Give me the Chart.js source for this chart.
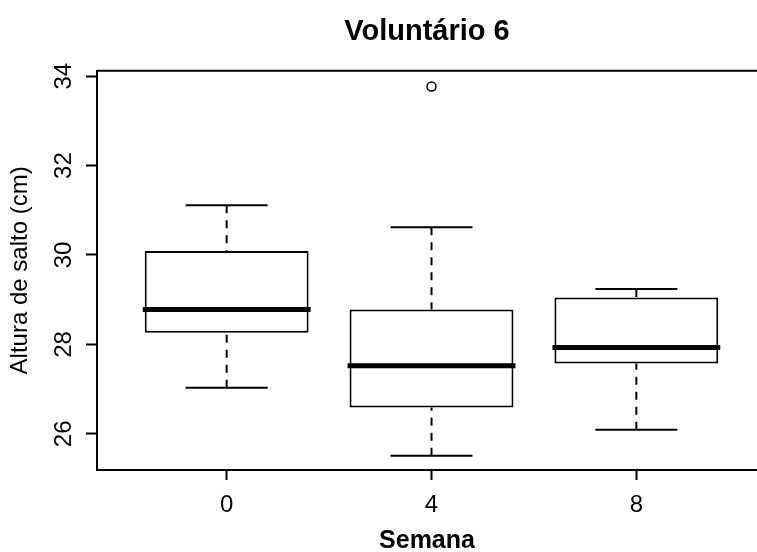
<!DOCTYPE html>
<html>
<head>
<meta charset="utf-8">
<title>Voluntário 6</title>
<script src="https://cdn.jsdelivr.net/npm/chart.js@4.4.1/dist/chart.umd.min.js"></script>
<style>
    html, body { margin: 0; padding: 0; background: #fff; }
    #wrap { width: 757px; height: 552px; }
</style>
</head>
<body>
<div id="wrap"><canvas id="boxChart"></canvas></div>
<script>
// Semanas (eixo x) e posicao de cada caixa
const semanas = ['0', '4', '8'];
const posicoes = [1, 2, 3];

// Estatisticas das caixas (cm)
const minimo = [27.03, 25.51, 26.09];
const quartil1 = [28.26, 26.59, 27.57];
const mediana = [28.78, 27.52, 27.93];
const quartil3 = [30.09, 28.78, 29.05];
const maximo = [31.11, 30.62, 29.24];

// Valores atipicos
const outlierPos = [2];
const outlierValor = [33.77];

// Marcas do eixo y
const yTicks = [26, 28, 30, 32, 34];

Chart.defaults.font.family = "'Liberation Sans', Arial, sans-serif";
Chart.defaults.color = '#000';

// Bigodes, medianas e moldura (estilo boxplot do R)
const boxplotExtras = {
    id: 'boxplotExtras',
    afterDatasetsDraw(chart) {
        const { ctx, chartArea, scales: { x, y } } = chart;
        const bars = chart.getDatasetMeta(0).data;
        ctx.save();
        ctx.strokeStyle = '#000';
        ctx.lineCap = 'butt';

        posicoes.forEach((p, i) => {
            const cx = x.getPixelForValue(p);
            const half = bars[i].width / 2;

            // bigodes tracejados, do extremo ate a caixa
            ctx.lineWidth = 2;
            ctx.setLineDash([8, 7]);
            ctx.beginPath();
            ctx.moveTo(cx, y.getPixelForValue(maximo[i]));
            ctx.lineTo(cx, y.getPixelForValue(quartil3[i]));
            ctx.moveTo(cx, y.getPixelForValue(minimo[i]));
            ctx.lineTo(cx, y.getPixelForValue(quartil1[i]));
            ctx.stroke();

            // tracos nos extremos
            ctx.setLineDash([]);
            ctx.beginPath();
            [maximo[i], minimo[i]].forEach(v => {
                const py = y.getPixelForValue(v);
                ctx.moveTo(cx - half / 2, py);
                ctx.lineTo(cx + half / 2, py);
            });
            ctx.stroke();

            // mediana
            ctx.lineWidth = 5;
            ctx.beginPath();
            const my = y.getPixelForValue(mediana[i]);
            ctx.moveTo(cx - half - 2, my);
            ctx.lineTo(cx + half + 2, my);
            ctx.stroke();
        });

        // linha superior da moldura
        ctx.lineWidth = 2;
        ctx.beginPath();
        ctx.moveTo(chartArea.left, chartArea.top);
        ctx.lineTo(chartArea.right, chartArea.top);
        ctx.stroke();
        ctx.restore();
    }
};

new Chart(document.getElementById('boxChart'), {
    type: 'bar',
    data: {
        datasets: [{
            type: 'bar',
            label: 'Caixa',
            data: posicoes.map((p, i) => ({ x: p, y: [quartil1[i], quartil3[i]] })),
            backgroundColor: '#fff',
            borderColor: '#000',
            borderWidth: 2,
            borderSkipped: false,
            categoryPercentage: 0.8,
            barPercentage: 1
        }, {
            type: 'scatter',
            label: 'Atípicos',
            data: outlierPos.map((p, i) => ({ x: p, y: outlierValor[i] })),
            pointRadius: 4.5,
            pointBorderWidth: 1.5,
            backgroundColor: 'rgba(0,0,0,0)',
            borderColor: '#000'
        }]
    },
    options: {
        responsive: true,
        maintainAspectRatio: false,
        animation: false,
        layout: { padding: 0, autoPadding: false },
        plugins: {
            legend: { display: false },
            tooltip: { enabled: false },
            title: {
                display: true,
                text: 'Voluntário 6',
                fullSize: false,
                color: '#000',
                font: { size: 29, weight: 'bold' },
                padding: { top: 15, bottom: 21 }
            }
        },
        scales: {
            x: {
                type: 'linear',
                min: 0.367,
                max: 3.589,
                offset: false,
                afterBuildTicks: s => { s.ticks = posicoes.map(v => ({ value: v })); },
                afterFit: s => { s.height = 82; },
                ticks: {
                    callback: (v, i) => semanas[i],
                    maxRotation: 0,
                    padding: 11,
                    color: '#000',
                    font: { size: 24 }
                },
                grid: { drawOnChartArea: false, offset: false, tickLength: 10, tickColor: '#000', tickWidth: 2 },
                border: { display: true, color: '#000', width: 2 },
                title: {
                    display: true,
                    text: 'Semana',
                    color: '#000',
                    font: { size: 25, weight: 'bold', lineHeight: 0.8 },
                    padding: { top: 0, bottom: 0.5 }
                }
            },
            y: {
                min: 25.19,
                max: 34.12,
                afterBuildTicks: s => { s.ticks = yTicks.map(v => ({ value: v })); },
                afterFit: s => { s.width = 97; },
                ticks: {
                    minRotation: 90,
                    maxRotation: 90,
                    crossAlign: 'center',
                    padding: 8,
                    color: '#000',
                    font: { size: 24 }
                },
                grid: { drawOnChartArea: false, tickLength: 11, tickColor: '#000', tickWidth: 2 },
                border: { display: true, color: '#000', width: 2 },
                title: {
                    display: true,
                    text: 'Altura de salto (cm)',
                    color: '#000',
                    font: { size: 24, lineHeight: 1 },
                    padding: { top: 8, bottom: 0 }
                }
            }
        }
    },
    plugins: [boxplotExtras]
});
</script>
</body>
</html>
